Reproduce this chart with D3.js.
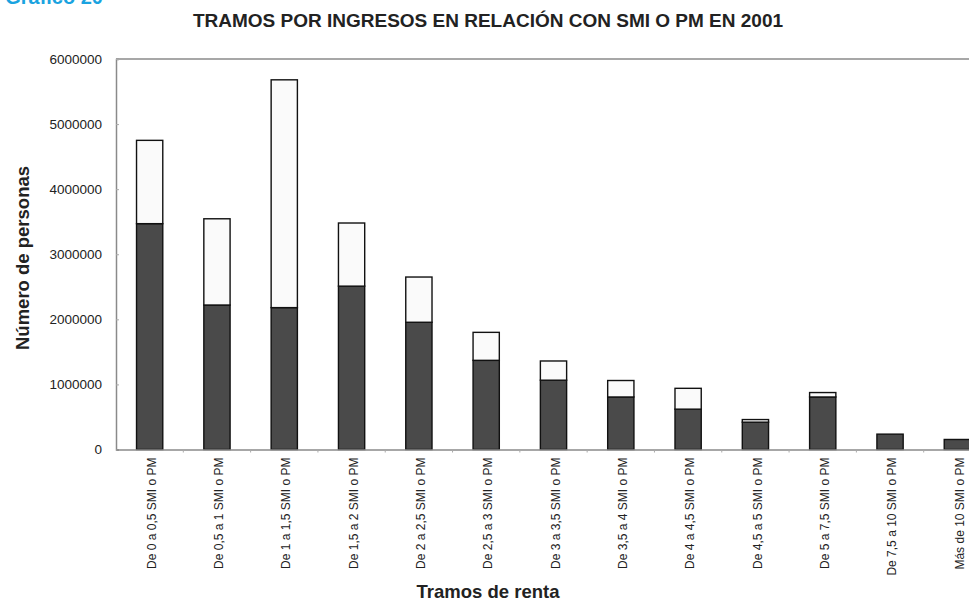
<!DOCTYPE html>
<html><head><meta charset="utf-8">
<script src="https://cdn.jsdelivr.net/npm/d3@7"></script>
<style>body{margin:0;background:#fff;overflow:hidden}</style>
</head><body>
<svg id="c" width="969" height="603"></svg>
<script>
const categories = ["De 0 a 0,5 SMI o PM","De 0,5 a 1 SMI o PM","De 1 a 1,5 SMI o PM","De 1,5 a 2 SMI o PM","De 2 a 2,5 SMI o PM","De 2,5 a 3 SMI o PM","De 3 a 3,5 SMI o PM","De 3,5 a 4 SMI o PM","De 4 a 4,5 SMI o PM","De 4,5 a 5 SMI o PM","De 5 a 7,5 SMI o PM","De 7,5 a 10 SMI o PM","Más de 10 SMI o PM"];
const lowerValues = [3470000,2220000,2180000,2510000,1955000,1370000,1065000,807000,620000,420000,807000,236000,154000];
const upperValues = [1280000,1325000,3500000,970000,695000,430000,295000,253000,320000,40000,68000,0,0];
const yTicks = [0,1000000,2000000,3000000,4000000,5000000,6000000];

(function(){
const svg = d3.select("#c");
const mLeft = 116, mTop = 59, mBottom = 449.5, mRight = 991;
const FONT = "'Liberation Sans', Arial, sans-serif";
const x = d3.scaleBand().domain(categories).range([mLeft, mRight]).paddingInner(0.61).paddingOuter(0.305);
const y = d3.scaleLinear().domain([0, 6000000]).range([mBottom, mTop]);

svg.append("text").attr("x", 103).attr("y", 4).attr("text-anchor", "end").attr("fill", "#1aa3e0")
  .style("font", "bold 20px " + FONT).text("Gráfico 20");

svg.append("text").attr("x", 488).attr("y", 27).attr("text-anchor", "middle").attr("fill", "#222")
  .style("font", "bold 19px " + FONT)
  .text("TRAMOS POR INGRESOS EN RELACIÓN CON SMI O PM EN 2001");

svg.append("line").attr("x1", mLeft).attr("x2", 969).attr("y1", mTop).attr("y2", mTop).attr("stroke", "#8a8a8a").attr("stroke-width", 1.5);

const stack = d3.stack().keys(["lower","upper"])(categories.map((c,i)=>({cat:c, lower:lowerValues[i], upper:upperValues[i]})));
const fills = ["#4a4a4a", "#fafafa"];
stack.forEach((s, k) => {
  svg.append("g").selectAll("rect").data(s).join("rect")
    .attr("x", d => x(d.data.cat))
    .attr("width", x.bandwidth())
    .attr("y", d => y(d[1]))
    .attr("height", d => Math.max(0, y(d[0]) - y(d[1])))
    .attr("fill", fills[k]).attr("stroke", "#111").attr("stroke-width", 1.4)
    .attr("display", d => (d[1]-d[0]) > 0 ? null : "none");
});

const ya = svg.append("g").attr("transform", `translate(${mLeft},0)`)
  .call(d3.axisLeft(y).tickValues(yTicks).tickFormat(d3.format("d")).tickSize(-3).tickPadding(14));
ya.select(".domain").attr("stroke", "#8a8a8a").attr("stroke-width", 1.5);
ya.selectAll(".tick line").attr("stroke", "#aaa");
ya.selectAll("text").attr("fill", "#222").style("font", "13.5px " + FONT);

const xa = svg.append("g").attr("transform", `translate(0,${mBottom})`)
  .call(d3.axisBottom(x).tickSize(0).tickPadding(0));
xa.select(".domain").attr("stroke", "#8a8a8a").attr("stroke-width", 1.5);
xa.selectAll(".tick text").attr("fill", "#222")
  .style("font", "12px " + FONT)
  .attr("transform", "rotate(-90)").attr("text-anchor", "end")
  .attr("x", -8).attr("y", 2).attr("dy", "0.35em");
svg.append("g").selectAll("line").data(categories.slice(1)).join("line")
  .attr("x1", d => x(d) - x.step()*x.paddingInner()/2).attr("x2", d => x(d) - x.step()*x.paddingInner()/2)
  .attr("y1", mBottom).attr("y2", mBottom+3).attr("stroke", "#aaa");

svg.append("text").attr("transform", "translate(29,258) rotate(-90)").attr("text-anchor", "middle")
  .attr("fill", "#222").style("font", "bold 18.5px " + FONT).text("Número de personas");
svg.append("text").attr("x", 488).attr("y", 598).attr("text-anchor", "middle")
  .attr("fill", "#222").style("font", "bold 18.5px " + FONT).text("Tramos de renta");
})();
</script>
</body></html>
